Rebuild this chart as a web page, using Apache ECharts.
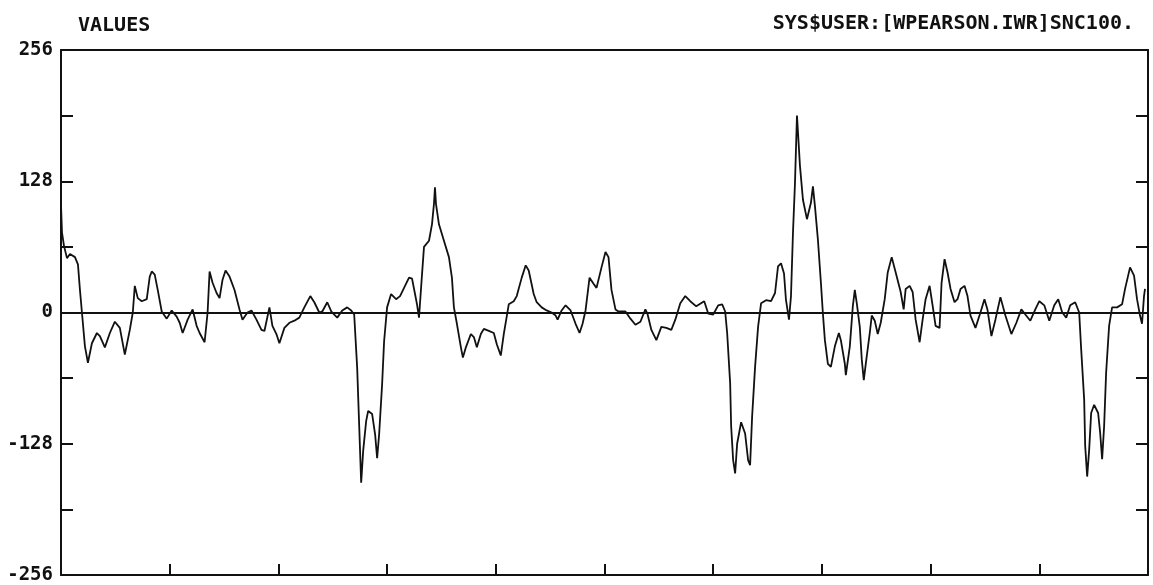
<!DOCTYPE html>
<html>
<head>
<meta charset="utf-8">
<title>VALUES</title>
<script src="https://cdn.jsdelivr.net/npm/echarts@6/dist/echarts.min.js"></script>
<style>
  html, body { margin: 0; padding: 0; background: #fff; }
  #chart { width: 1153px; height: 585px; }
</style>
</head>
<body>
<div id="chart"></div>
<script>
// sample position along the trace, and the value at that position
var times = [
  0, 1, 3, 6, 9, 14, 17, 19, 21, 24, 27, 31, 36, 39, 44, 49, 54, 59, 64, 69,
  72, 74, 77, 81, 86, 89, 91, 94, 97, 101, 106, 111, 116, 119, 122, 127, 132, 136, 139, 144,
  147, 149, 152, 156, 159, 162, 165, 169, 174, 179, 182, 187, 191, 196, 201, 204, 209, 212, 216, 219,
  224, 229, 234, 239, 244, 250, 254, 259, 262, 267, 271, 274,
  277, 282, 287, 291, 294, 297, 299, 301, 303, 306, 308, 312, 315, 317, 319, 322, 324, 327,
  331, 336, 340, 344, 349, 352, 355, 357, 359, 362, 364, 369, 372, 374, 375, 376, 379, 384,
  389, 392, 394, 397, 401, 403, 406, 411, 414, 417, 421, 424, 429, 434, 437, 441, 444, 449,
  454, 457, 462, 466, 469, 474, 477, 482, 487, 492, 496, 498, 502, 506, 511, 516, 520, 523,
  526, 530, 534, 537, 542, 546, 549,
  552, 556, 559, 566, 571, 576, 581, 586, 588, 592, 597, 602, 607, 612, 616, 621, 626, 631,
  637, 645, 649, 654, 659, 663, 666, 668, 671, 672, 674, 676, 678, 682, 686, 689, 691, 693,
  696, 699, 702, 707, 712, 716, 719, 722, 725, 727, 730, 732, 734, 736, 738, 739, 741, 744,
  748, 752, 754, 756, 759, 762, 764, 766, 769, 772, 776, 780, 782, 786, 787, 791, 794, 796,
  798, 801, 803, 805, 807, 811, 813, 816,
  819, 822, 826, 829, 833, 837, 842, 845, 847, 851, 854, 857, 861, 864, 867, 871, 874, 877,
  881, 883, 886, 889, 892, 896, 899, 902, 906, 909, 912, 917, 922, 926, 929, 933, 937, 942,
  947, 953, 958, 963, 967, 972, 977, 981, 986, 991, 996, 1000, 1004, 1008, 1012, 1017, 1021, 1023,
  1026, 1027, 1029, 1031, 1033, 1036, 1040, 1042, 1044, 1046, 1048, 1051, 1054, 1059, 1064, 1067, 1072, 1076,
  1079, 1082, 1084, 1086, 1087
];
var values = [
  105, 78, 65, 53, 57, 54, 47, 22, 0, -33, -49, -30, -20, -23, -34, -20, -9, -15, -41, -17,
  0, 26, 14, 11, 13, 35, 40, 37, 22, 1, -6, 2, -4, -10, -20, -7, 3, -13, -20, -29,
  0, 40, 29, 19, 14, 32, 41, 35, 22, 3, -7, 0, 2, -7, -17, -18, 5, -13, -21, -30,
  -15, -10, -8, -5, 5, 16, 10, 0, 1, 10, 1, -2,
  -5, 2, 5, 2, -2, -54, -110, -166, -135, -106, -96, -99, -119, -142, -119, -70, -28, 5,
  18, 13, 16, 24, 34, 33, 18, 8, -5, 37, 64, 70, 86, 106, 122, 106, 86, 70,
  54, 34, 5, -11, -34, -44, -34, -21, -24, -34, -21, -16, -18, -20, -31, -42, -21, 8,
  11, 16, 34, 46, 41, 18, 10, 5, 2, 0, -3, -7, 2, 7, 2, -11, -20, -11,
  2, 34, 28, 24, 44, 59, 54,
  22, 3, 1, 1, -6, -12, -9, 3, -1, -17, -27, -14, -15, -17, -7, 9, 16, 11,
  6, 11, -1, -2, 7, 8, 1, -20, -69, -111, -144, -157, -128, -107, -118, -144, -149, -102,
  -53, -14, 9, 12, 11, 19, 45, 48, 38, 12, -7, 16, 78, 126, 192, 176, 143, 110,
  91, 107, 123, 104, 71, 29, -1, -27, -50, -53, -33, -20, -27, -50, -61, -33, 6, 22,
  9, -14, -46, -66, -50, -20, -3, -8,
  -21, -10, 13, 39, 54, 39, 20, 3, 23, 26, 20, -7, -29, -7, 13, 26, 7, -13,
  -15, 29, 52, 39, 23, 10, 13, 23, 26, 16, -3, -15, 0, 13, 3, -23, -7, 15,
  -3, -21, -10, 3, -2, -8, 3, 11, 7, -8, 7, 13, 0, -5, 7, 10, 0, -36,
  -85, -130, -160, -134, -98, -90, -98, -117, -143, -111, -59, -13, 5, 5, 8, 23, 44, 36,
  13, -3, -11, 16, 23
];
var yTicks = [-256, -192, -128, -64, 0, 64, 128, 192, 256];
var titleLeft = 'VALUES';
var titleRight = 'SYS$USER:[WPEARSON.IWR]SNC100.';

var points = times.map(function(t, i) { return [t, values[i]]; });
var ink = '#111';
var font = '"DejaVu Sans Mono", "Liberation Mono", monospace';

var chart = echarts.init(document.getElementById('chart'), null, { renderer: 'canvas' });
chart.setOption({
  backgroundColor: '#fff',
  animation: false,
  title: [{
    text: titleLeft,
    left: 73,
    top: 11,
    textStyle: { fontFamily: font, fontSize: 20, fontWeight: 'bold', color: ink }
  }, {
    text: titleRight,
    right: 14,
    top: 9,
    textStyle: { fontFamily: font, fontSize: 20, fontWeight: 'bold', color: ink }
  }],
  grid: { left: 61, right: 5, top: 50, bottom: 10, containLabel: false },
  xAxis: [{
    type: 'value',
    min: 0,
    max: 1090,
    interval: 109,
    position: 'bottom',
    axisLine: { show: true, onZero: false, lineStyle: { color: ink, width: 2 } },
    axisTick: { show: true, inside: true, length: 11, lineStyle: { color: ink, width: 2 } },
    axisLabel: { show: false },
    splitLine: { show: false }
  }, {
    type: 'value',
    min: 0,
    max: 1090,
    position: 'top',
    axisLine: { show: true, onZero: false, lineStyle: { color: ink, width: 2 } },
    axisTick: { show: false },
    axisLabel: { show: false },
    splitLine: { show: false }
  }],
  yAxis: [{
    type: 'value',
    min: yTicks[0],
    max: yTicks[yTicks.length - 1],
    interval: 64,
    position: 'left',
    axisLine: { show: true, onZero: false, lineStyle: { color: ink, width: 2 } },
    axisTick: { show: true, inside: true, length: 12, lineStyle: { color: ink, width: 2 } },
    axisLabel: {
      margin: 8,
      fontFamily: font,
      fontSize: 19,
      fontWeight: 'bold',
      color: ink,
      formatter: function(v) { return v % 128 === 0 ? String(v) : ''; }
    },
    splitLine: { show: false }
  }, {
    type: 'value',
    min: yTicks[0],
    max: yTicks[yTicks.length - 1],
    interval: 64,
    position: 'right',
    axisLine: { show: true, onZero: false, lineStyle: { color: ink, width: 2 } },
    axisTick: { show: true, inside: true, length: 12, lineStyle: { color: ink, width: 2 } },
    axisLabel: { show: false },
    splitLine: { show: false }
  }],
  series: [{
    type: 'line',
    data: points,
    xAxisIndex: 0,
    yAxisIndex: 0,
    showSymbol: false,
    smooth: false,
    lineStyle: { color: ink, width: 1.8 },
    markLine: {
      silent: true,
      symbol: ['none', 'none'],
      label: { show: false },
      lineStyle: { color: ink, width: 2.2, type: 'solid' },
      data: [{ yAxis: 0 }]
    }
  }]
});
</script>
</body>
</html>
